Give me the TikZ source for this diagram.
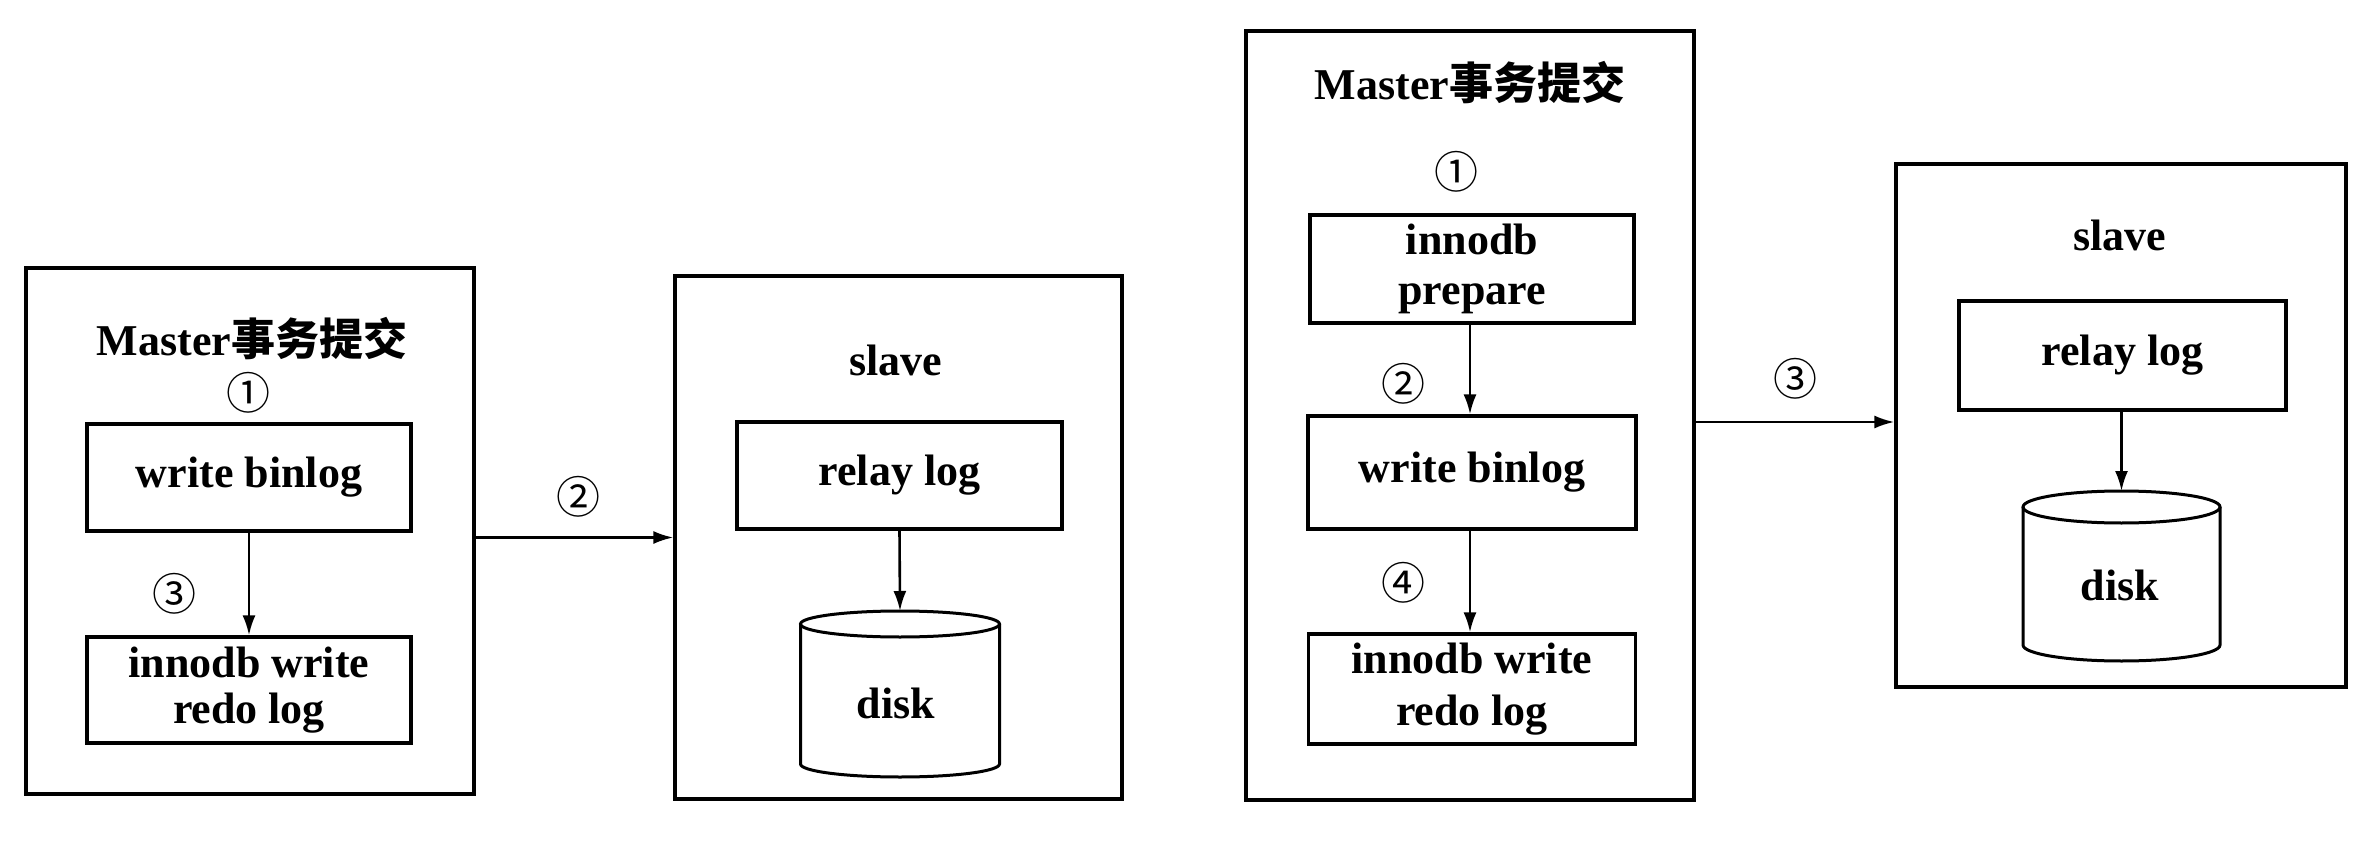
\documentclass[tikz,border=0pt]{standalone}
\usepackage{fontspec}
\setmainfont{Liberation Serif}
\newfontfamily\cjk{Noto Sans CJK SC}
\usetikzlibrary{arrows.meta}
\begin{document}
\begin{tikzpicture}[x=1pt,y=-1pt,
  txt/.style={font=\bfseries\fontsize{44}{46}\selectfont, text=black, inner sep=0pt},
  num/.style={font=\cjk\fontsize{44}{46}\selectfont, text=black, inner sep=0pt},
  outer/.style={draw=black, line width=3.2pt, inner sep=0pt},
  inbox/.style={draw=black, line width=3.2pt, inner sep=0pt, align=center, font=\bfseries\fontsize{44}{46}\selectfont},
  flow/.style={draw=black, line width=2.6pt, -{Latex[length=20pt,width=13pt]}},
  cyl/.style={draw=black, line width=3pt}
]
\useasboundingbox[fill=white] (0,0) rectangle (2372,842);

% ---------- left: master ----------
\node[outer, minimum width=448pt, minimum height=526pt] (masterL) at (250,531) {};
\node[txt] (titleL) at (252,339) {Master{\cjk\bfseries 事务提交}};
\node[num] (n1L) at (248,393) {①};
\node[inbox, minimum width=324pt, minimum height=107pt] (wbL) at (249,477.5) {write binlog};
\node[inbox, minimum width=324pt, minimum height=106pt] (iwL) at (249,690) {innodb write\\redo log};
\node[num] (n3L) at (174,594) {③};
\draw[flow] (wbL.south) -- (iwL.north);

% ---------- left: slave ----------
\node[outer, minimum width=447pt, minimum height=523pt] (slaveL) at (898.5,537.5) {};
\node[txt] (slaveLt) at (896,360) {slave};
\node[inbox, minimum width=325pt, minimum height=107pt] (relayL) at (899.5,475.5) {relay log};
\draw[cyl] (800.5,624) -- (800.5,764) arc[start angle=180,end angle=360,x radius=99.5pt,y radius=13pt] -- (999.5,624);
\draw[cyl] (900,624) ellipse[x radius=99.5pt,y radius=13pt];
\coordinate (cylLtop) at (900,611);
\node[txt] (diskL) at (896,703) {disk};
\draw[flow] (relayL.south) -- (cylLtop);

% arrow 2 (left)
\node[num] (n2L) at (578,497) {②};
\draw[flow] (masterL.east |- slaveL.west) -- (slaveL.west);

% ---------- right: master ----------
\node[outer, minimum width=448pt, minimum height=769pt] (masterR) at (1470,415.5) {};
\node[txt] (titleR) at (1470,83) {Master{\cjk\bfseries 事务提交}};
\node[num] (n1R) at (1456,172) {①};
\node[inbox, minimum width=324pt, minimum height=108pt, font=\bfseries\fontsize{44}{50}\selectfont] (prep) at (1472,269) {innodb\\prepare};
\node[num] (n2R) at (1403,384) {②};
\node[inbox, minimum width=328pt, minimum height=113pt] (wbR) at (1472,472.5) {write binlog};
\node[num] (n4R) at (1403,583) {④};
\node[inbox, minimum width=327pt, minimum height=110pt, font=\bfseries\fontsize{44}{52}\selectfont] (iwR) at (1472,689) {innodb write\\redo log};
\draw[flow] (prep.south -| 1470,0) -- (wbR.north -| 1470,0);
\draw[flow] (wbR.south -| 1470,0) -- (iwR.north -| 1470,0);

% ---------- right: slave ----------
\node[outer, minimum width=450pt, minimum height=523pt] (slaveR) at (2121,425.5) {};
\node[txt] (slaveRt) at (2120,235) {slave};
\node[inbox, minimum width=327pt, minimum height=109pt] (relayR) at (2122.5,355.5) {relay log};
\draw[cyl] (2023,507) -- (2023,645) arc[start angle=180,end angle=360,x radius=98.5pt,y radius=16pt] -- (2220,507);
\draw[cyl] (2121.5,507) ellipse[x radius=98.5pt,y radius=16pt];
\coordinate (cylRtop) at (2121.5,491);
\node[txt] (diskR) at (2120,585) {disk};
\draw[flow] (relayR.south -| cylRtop) -- (cylRtop);

% arrow 3 (right)
\node[num] (n3R) at (1795,379) {③};
\draw[flow] (masterR.east |- 0,422) -- (slaveR.west |- 0,422);
\end{tikzpicture}
\end{document}
